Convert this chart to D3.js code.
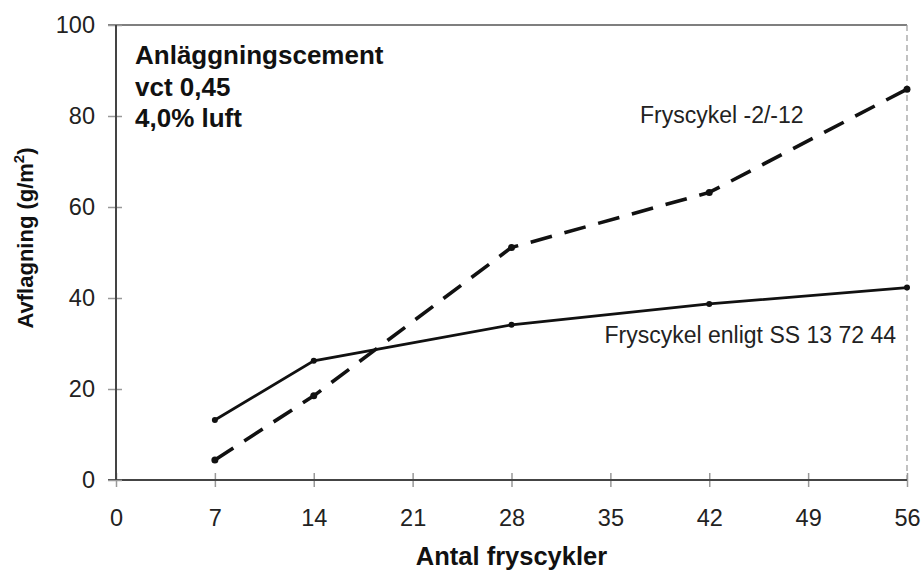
<!DOCTYPE html>
<html>
<head>
<meta charset="utf-8">
<script src="https://cdn.jsdelivr.net/npm/d3@7"></script>
<style>
  body { margin: 0; background: #fff; }
  svg { font-family: "Liberation Sans", Arial, Helvetica, sans-serif; }
  .tick text { fill: #222; }
</style>
</head>
<body>
<script>
// Data
var cycles = [7, 14, 28, 42, 56];
var ssValues = [13.2, 26.2, 34.1, 38.7, 42.3];      // Fryscykel enligt SS 13 72 44
var coldValues = [4.4, 18.5, 51.1, 63.2, 85.9];     // Fryscykel -2/-12
var xTicks = [0, 7, 14, 21, 28, 35, 42, 49, 56];
var yTicks = [0, 20, 40, 60, 80, 100];
var noteLines = ["Anläggningscement", "vct 0,45", "4,0% luft"];

//Define Margin
var margin = {left: 116, right: 15, top: 25, bottom: 91},
    width = 922 - margin.left - margin.right,
    height = 571 - margin.top - margin.bottom;

var svg = d3.select("body")
    .append("svg")
    .attr("width", 922)
    .attr("height", 571)
    .append("g")
    .attr("transform", "translate(" + margin.left + "," + margin.top + ")");

var xScale = d3.scaleLinear().domain([0, 56]).range([0, width]);
var yScale = d3.scaleLinear().domain([0, 100]).range([height, 0]);

// top border and faint right border
svg.append("line")
    .attr("x1", -8).attr("x2", width)
    .attr("y1", 0).attr("y2", 0)
    .style("stroke", "#555").style("stroke-width", 1.5);
svg.append("line")
    .attr("x1", width).attr("x2", width)
    .attr("y1", 0).attr("y2", height)
    .style("stroke", "#999").style("stroke-width", 1.2)
    .style("stroke-dasharray", "6,4");

// x-axis
var xAxis = d3.axisBottom(xScale).tickValues(xTicks).tickSize(0).tickPadding(29);
var gX = svg.append("g")
    .attr("transform", "translate(0," + height + ")")
    .call(xAxis);
gX.select(".domain").remove();
gX.append("line").attr("x1", -8).attr("x2", width).attr("y1", 0).attr("y2", 0)
    .style("stroke", "#444").style("stroke-width", 2);
gX.selectAll(".tick").append("line")
    .attr("y1", -7).attr("y2", 7)
    .style("stroke", "#999").style("stroke-width", 1.5);
gX.selectAll(".tick text").attr("font-size", "23.5px").attr("fill", "#222");

// y-axis
var yAxis = d3.axisLeft(yScale).tickValues(yTicks).tickSize(0).tickPadding(21);
var gY = svg.append("g").call(yAxis);
gY.select(".domain").remove();
gY.append("line").attr("x1", 0).attr("x2", 0).attr("y1", 0).attr("y2", height)
    .style("stroke", "#444").style("stroke-width", 2);
gY.selectAll(".tick").append("line")
    .attr("x1", -8).attr("x2", 6)
    .style("stroke", "#999").style("stroke-width", 1.5);
gY.selectAll(".tick text").attr("font-size", "23.5px").attr("fill", "#222");

// axis titles
svg.append("text")
    .attr("x", width / 2)
    .attr("y", height + 85)
    .style("text-anchor", "middle")
    .attr("font-size", "25.5px")
    .attr("font-weight", "bold")
    .attr("fill", "#111")
    .text("Antal fryscykler");

var yLabel = svg.append("text")
    .attr("transform", "translate(" + (33 - margin.left) + "," + (238 - margin.top) + ") rotate(-90)")
    .style("text-anchor", "middle")
    .attr("font-size", "22px")
    .attr("font-weight", "bold")
    .attr("fill", "#111");
yLabel.append("tspan").text("Avflagning (g/m");
yLabel.append("tspan").attr("dy", -9).attr("font-size", "15px").text("2");
yLabel.append("tspan").attr("dy", 9).text(")");

// lines
var line = d3.line()
    .x(function(d) { return xScale(d[0]); })
    .y(function(d) { return yScale(d[1]); });

var ssData = cycles.map(function(c, i) { return [c, ssValues[i]]; });
var coldData = cycles.map(function(c, i) { return [c, coldValues[i]]; });

svg.append("path")
    .datum(ssData)
    .attr("d", line)
    .style("fill", "none")
    .style("stroke", "#111")
    .style("stroke-width", 2.8);

svg.append("path")
    .datum(coldData)
    .attr("d", line)
    .style("fill", "none")
    .style("stroke", "#111")
    .style("stroke-width", 3.6)
    .style("stroke-dasharray", "22,13");

svg.selectAll(".dotA")
    .data(ssData)
    .enter().append("circle")
    .attr("cx", function(d) { return xScale(d[0]); })
    .attr("cy", function(d) { return yScale(d[1]); })
    .attr("r", 3)
    .style("fill", "#111");

svg.selectAll(".dotB")
    .data(coldData)
    .enter().append("circle")
    .attr("cx", function(d) { return xScale(d[0]); })
    .attr("cy", function(d) { return yScale(d[1]); })
    .attr("r", 3.5)
    .style("fill", "#111");

// series labels
svg.append("text")
    .attr("x", 640 - margin.left)
    .attr("y", 123 - margin.top)
    .attr("font-size", "23px")
    .attr("fill", "#222")
    .text("Fryscykel -2/-12");

svg.append("text")
    .attr("x", 896 - margin.left)
    .attr("y", 343 - margin.top)
    .style("text-anchor", "end")
    .attr("font-size", "23px")
    .attr("fill", "#222")
    .text("Fryscykel enligt SS 13 72 44");

// note box text
svg.selectAll(".note")
    .data(noteLines)
    .enter().append("text")
    .attr("x", 135 - margin.left)
    .attr("y", function(d, i) { return 64 - margin.top + i * 31.5; })
    .attr("font-size", "26px")
    .attr("font-weight", "bold")
    .attr("fill", "#111")
    .text(function(d) { return d; });
</script>
</body>
</html>
